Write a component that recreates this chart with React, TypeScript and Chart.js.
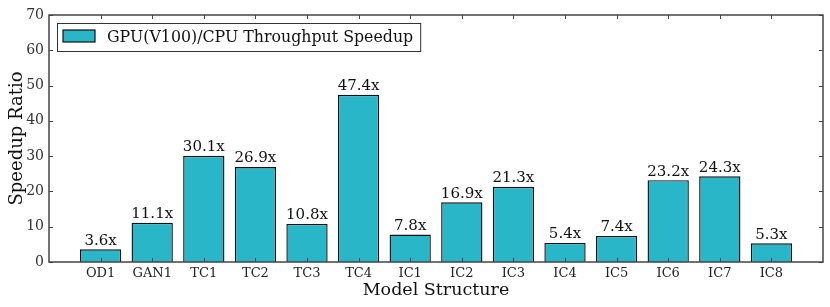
import React, { useEffect, useRef } from "react";
import { Chart, registerables } from "chart.js";

Chart.register(...registerables);

const categories = ["OD1", "GAN1", "TC1", "TC2", "TC3", "TC4", "IC1", "IC2", "IC3", "IC4", "IC5", "IC6", "IC7", "IC8"];
const speedups = [3.6, 11.1, 30.1, 26.9, 10.8, 47.4, 7.8, 16.9, 21.3, 5.4, 7.4, 23.2, 24.3, 5.3];
const valueLabels = ["3.6x", "11.1x", "30.1x", "26.9x", "10.8x", "47.4x", "7.8x", "16.9x", "21.3x", "5.4x", "7.4x", "23.2x", "24.3x", "5.3x"];
const yTicks = [0, 10, 20, 30, 40, 50, 60, 70];
const seriesName = "GPU(V100)/CPU Throughput Speedup";

const FONT = "'DejaVu Serif', serif";
const BAR_COLOR = "#29b6c9";
const FRAME_COLOR = "#444444";

const framePlugin = {
  id: "mplFrame",
  afterDatasetsDraw(chart: any) {
    const { ctx, chartArea: a, scales } = chart;
    const xs = scales.x;
    const ys = scales.y;
    ctx.save();
    // value labels
    const meta = chart.getDatasetMeta(0);
    ctx.fillStyle = "#111";
    ctx.font = `15px ${FONT}`;
    ctx.textAlign = "center";
    ctx.textBaseline = "bottom";
    meta.data.forEach((bar: any, i: number) => {
      ctx.fillText(valueLabels[i], bar.x, bar.y - 1);
    });
    // ticks
    ctx.strokeStyle = FRAME_COLOR;
    ctx.lineWidth = 1;
    const tl = 4;
    ctx.beginPath();
    categories.forEach((_, i) => {
      const px = Math.round(xs.getPixelForValue(i)) + 0.5;
      ctx.moveTo(px, a.bottom);
      ctx.lineTo(px, a.bottom - tl);
      ctx.moveTo(px, a.top);
      ctx.lineTo(px, a.top + tl);
    });
    yTicks.forEach((v) => {
      const py = Math.round(ys.getPixelForValue(v)) + 0.5;
      ctx.moveTo(a.left, py);
      ctx.lineTo(a.left + tl, py);
      ctx.moveTo(a.right, py);
      ctx.lineTo(a.right - tl, py);
    });
    ctx.stroke();
    // frame
    ctx.lineWidth = 1.5;
    ctx.strokeRect(a.left, a.top, a.right - a.left, a.bottom - a.top);
    // legend
    const lx = a.left + 8;
    const ly = a.top + 8;
    ctx.font = `15.8px ${FONT}`;
    const tw = ctx.measureText(seriesName).width;
    const lw = 50 + tw + 7;
    const lh = 28;
    ctx.fillStyle = "#fff";
    ctx.fillRect(lx, ly, lw, lh);
    ctx.strokeStyle = "#333";
    ctx.lineWidth = 1;
    ctx.strokeRect(lx + 0.5, ly + 0.5, lw, lh);
    ctx.fillStyle = BAR_COLOR;
    ctx.fillRect(lx + 6, ly + 7, 32, 12);
    ctx.strokeStyle = "#111";
    ctx.lineWidth = 1.2;
    ctx.strokeRect(lx + 6, ly + 7, 32, 12);
    ctx.fillStyle = "#111";
    ctx.textAlign = "left";
    ctx.textBaseline = "middle";
    ctx.fillText(seriesName, lx + 50, ly + lh / 2 + 1);
    ctx.restore();
  },
};

export default function App() {
  const ref = useRef<HTMLCanvasElement>(null);
  useEffect(() => {
    document.body.style.margin = "0";
    const chart = new Chart(ref.current!, {
      type: "bar",
      data: {
        datasets: [
          {
            label: seriesName,
            data: speedups.map((v, i) => ({ x: i, y: v })),
            backgroundColor: BAR_COLOR,
            borderColor: "#111",
            borderWidth: 1.4,
            barPercentage: 1,
            categoryPercentage: 0.8,
          },
        ],
      },
      options: {
        animation: false,
        responsive: false,
        layout: { padding: { top: 15, right: 7, left: 0, bottom: 0 } },
        plugins: { legend: { display: false }, tooltip: { enabled: false } },
        scales: {
          x: {
            type: "linear",
            min: -1,
            max: 14,
            offset: false,
            grid: { display: false, drawTicks: false, offset: false },
            border: { display: false },
            afterBuildTicks: (s: any) => {
              s.ticks = categories.map((_, i) => ({ value: i }));
            },
            afterFit: (s: any) => {
              s.height = 45;
            },
            ticks: {
              autoSkip: false,
              maxRotation: 0,
              padding: 4,
              color: "#222",
              font: { family: FONT, size: 13 },
              callback: (v: any) => categories[v] ?? "",
            },
            title: {
              display: true,
              text: "Model Structure",
              color: "#111",
              font: { family: FONT, size: 17.5 },
              padding: { top: 0, bottom: 6 },
            },
          },
          y: {
            min: 0,
            max: 70,
            grid: { display: false, drawTicks: false },
            border: { display: false },
            afterBuildTicks: (s: any) => {
              s.ticks = yTicks.map((v) => ({ value: v }));
            },
            afterFit: (s: any) => {
              s.width = 49;
            },
            ticks: {
              padding: 5,
              color: "#333",
              font: { family: FONT, size: 14 },
            },
            title: {
              display: true,
              text: "Speedup Ratio",
              color: "#111",
              font: { family: FONT, size: 18 },
              padding: { top: 7, bottom: 0 },
            },
          },
        },
      },
      plugins: [framePlugin],
    } as any);
    return () => chart.destroy();
  }, []);
  return <canvas ref={ref} width={830} height={307} style={{ display: "block" }} />;
}
